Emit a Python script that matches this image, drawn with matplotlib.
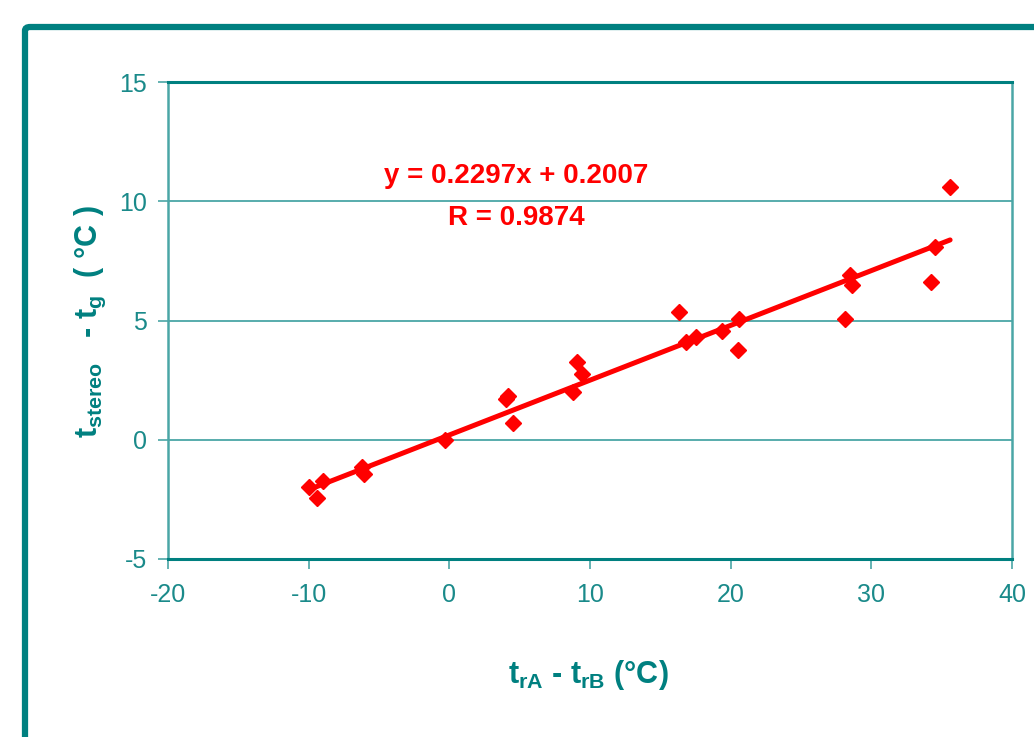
import matplotlib
matplotlib.use("Agg")
import matplotlib.pyplot as plt
import numpy as np
from matplotlib.patches import FancyBboxPatch

# Data
x_vals = [-10.0, -9.4, -9.0, -6.2, -6.1, -0.3, 4.0, 4.2, 4.55, 8.8, 9.1, 9.4,
          16.3, 16.85, 17.55, 19.4, 20.5, 20.6, 28.15, 28.5, 28.6, 34.25, 34.5, 35.6]
y_vals = [-2.0, -2.45, -1.75, -1.15, -1.45, 0.0, 1.7, 1.85, 0.7, 2.0, 3.25, 2.75,
          5.35, 4.1, 4.3, 4.55, 3.75, 5.05, 5.05, 6.9, 6.5, 6.6, 8.1, 10.6]
slope = 0.2297
intercept = 0.2007
r_value = 0.9874
x_ticks = [-20, -10, 0, 10, 20, 30, 40]
y_ticks = [-5, 0, 5, 10, 15]

teal = "#008080"
teal_light = "#4aa6a6"
tick_color = "#1a8a8a"

plt.rcParams['axes.unicode_minus'] = False
plt.rcParams['mathtext.fontset'] = 'custom'
plt.rcParams['mathtext.rm'] = 'Liberation Sans'
plt.rcParams['mathtext.bf'] = 'Liberation Sans:bold'
plt.rcParams['mathtext.it'] = 'Liberation Sans:italic'

fig = plt.figure(figsize=(10.34, 7.37), dpi=100)
W, H = 1034, 737

# outer frame
frame = FancyBboxPatch((25 / W, -0.2), 1.2, (737 - 27) / H + 0.2,
                       boxstyle="round,pad=0,rounding_size=0.005",
                       transform=fig.transFigure, fill=False,
                       edgecolor=teal, linewidth=4.5, clip_on=False)
fig.patches.append(frame)

ax = fig.add_axes([168 / W, (737 - 559) / H, (1012 - 168) / W, (559 - 82) / H])
ax.set_xlim(-20, 40)
ax.set_ylim(-5, 15)
ax.set_xticks(x_ticks)
ax.set_yticks(y_ticks)

for y in [0, 5, 10]:
    ax.axhline(y, color=teal_light, linewidth=1.3, zorder=1)

ax.spines['top'].set_color(teal)
ax.spines['bottom'].set_color(teal)
ax.spines['top'].set_linewidth(2.2)
ax.spines['bottom'].set_linewidth(2.2)
ax.spines['left'].set_color(teal_light)
ax.spines['right'].set_color(teal_light)
ax.spines['left'].set_linewidth(1.8)
ax.spines['right'].set_linewidth(1.8)

ax.tick_params(axis='both', direction='out', length=7, width=1.2,
               color=teal_light, labelcolor=tick_color, labelsize=18,
               labelfontfamily='Liberation Sans')
ax.tick_params(axis='x', pad=10)
ax.tick_params(axis='y', pad=8)

xs = np.array(x_vals)
xl = np.array([xs.min(), xs.max()])
ax.plot(xl, slope * xl + intercept, color='#ff0000', linewidth=3.6,
        solid_capstyle='round', zorder=3)
ax.plot(x_vals, y_vals, linestyle='none', marker='D', markersize=8.5,
        color='#ff0000', zorder=4)

eq_font = ['Liberation Sans Narrow', 'Liberation Sans']
fig.text(516 / W, 1 - 176 / H, f"y = {slope}x + {intercept}", ha='center',
         va='center', color='#ff0000', fontsize=20, fontweight='bold',
         family=eq_font)
fig.text(516 / W, 1 - 218 / H, f"R = {r_value}", ha='center', va='center',
         color='#ff0000', fontsize=20, fontweight='bold', family=eq_font)

fig.text(588 / W, 1 - 675 / H, r'$\mathbf{t_{rA}}$ - $\mathbf{t_{rB}}$ (°C)',
         ha='center', va='center', color=teal, fontsize=22,
         fontweight='bold', family='Liberation Sans')
fig.text(90 / W, 1 - 322 / H, r'$\mathbf{t_{stereo}}$   - $\mathbf{t_{g}}$  ( °C )',
         ha='center', va='center', color=teal, fontsize=22, rotation=90,
         fontweight='bold', family='Liberation Sans')

fig.savefig("out.png", dpi=100)
